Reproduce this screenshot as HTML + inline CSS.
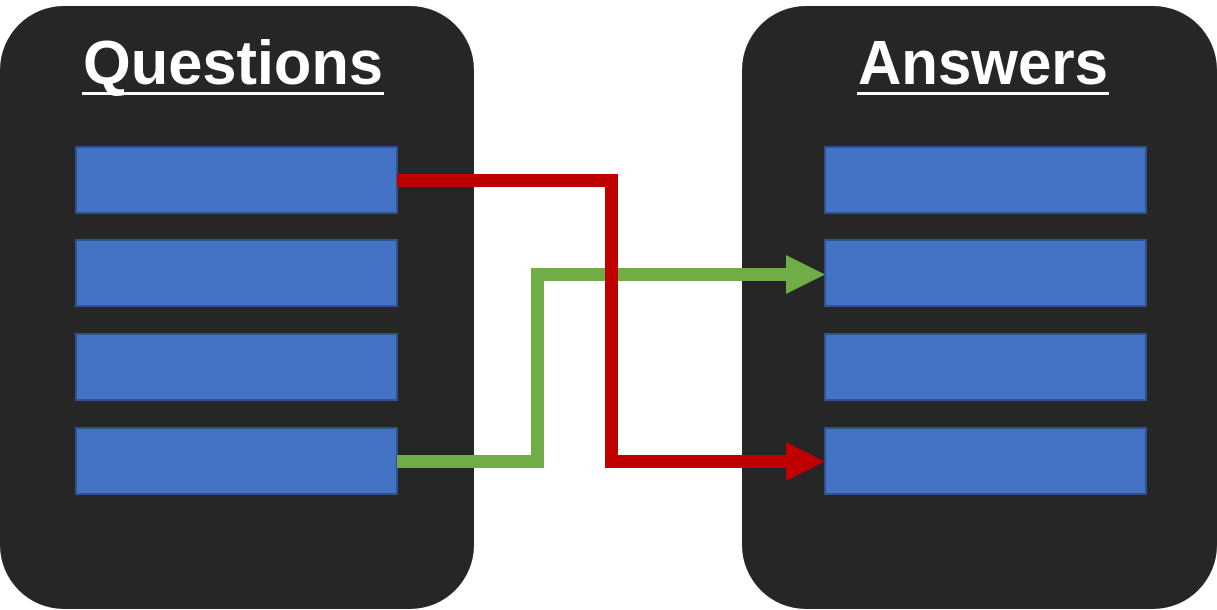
<!DOCTYPE html>
<html><head><meta charset="utf-8"><style>
html,body{margin:0;padding:0;background:#fff;width:1217px;height:610px;overflow:hidden}
svg{display:block}
text{font-family:"Liberation Sans",sans-serif;font-weight:bold;fill:#fff}
</style></head><body>
<svg width="1217" height="610" viewBox="0 0 1217 610">
<rect x="0" y="6" width="474" height="603" rx="64" fill="#262626"/>
<rect x="742" y="6" width="475" height="603" rx="64" fill="#262626"/>
<text x="83" y="84" font-size="62" textLength="300" lengthAdjust="spacingAndGlyphs">Questions</text>
<rect x="82" y="92" width="302" height="3" fill="#fff"/>
<text x="858" y="84" font-size="62" textLength="250" lengthAdjust="spacingAndGlyphs">Answers</text>
<rect x="857" y="92" width="252" height="3" fill="#fff"/>
<g fill="#4472c4" stroke="#2f528f" stroke-width="2">
<rect x="76" y="147" width="321" height="66"/>
<rect x="76" y="240" width="321" height="66"/>
<rect x="76" y="334" width="321" height="66"/>
<rect x="76" y="428" width="321" height="66"/>
<rect x="825" y="147" width="321" height="66"/>
<rect x="825" y="240" width="321" height="66"/>
<rect x="825" y="334" width="321" height="66"/>
<rect x="825" y="428" width="321" height="66"/>
</g>
<polyline points="397,461.5 537.5,461.5 537.5,274.5 790,274.5" fill="none" stroke="#70ad47" stroke-width="13" stroke-linejoin="miter"/>
<polygon points="786,255 825,274.5 786,294" fill="#70ad47"/>
<polyline points="397,180.5 611.5,180.5 611.5,461.5 790,461.5" fill="none" stroke="#c00000" stroke-width="13" stroke-linejoin="miter"/>
<polygon points="786,442 825,461.5 786,481" fill="#c00000"/>
</svg>
</body></html>
